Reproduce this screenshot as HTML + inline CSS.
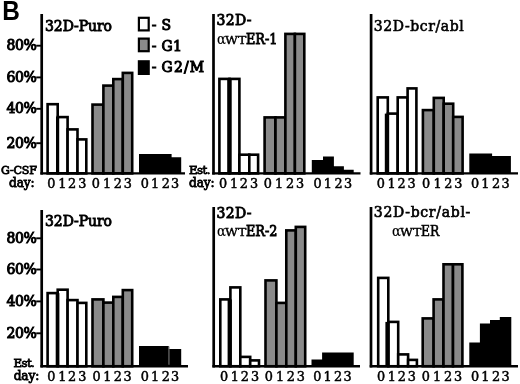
<!DOCTYPE html>
<html><head><meta charset="utf-8"><title>Figure B</title>
<style>
html,body{margin:0;padding:0;background:#fff;}
svg{display:block;}
.t{font-family:"DejaVu Serif", "Liberation Serif", serif;font-weight:normal;fill:#000;stroke:#000;stroke-width:0.8px;}
.b{font-family:"Liberation Sans",sans-serif;font-weight:bold;fill:#000;}
</style></head><body>
<svg width="520" height="384" viewBox="0 0 520 384">
<defs><filter id="soft" x="0" y="0" width="520" height="384" filterUnits="userSpaceOnUse"><feGaussianBlur stdDeviation="0.45"/></filter></defs>
<rect width="520" height="384" fill="#fff"/>
<g filter="url(#soft)">
<rect x="47.60" y="104.20" width="10.10" height="69.20" fill="#fff" stroke="#000" stroke-width="2.6"/>
<rect x="57.70" y="117.10" width="9.90" height="56.30" fill="#fff" stroke="#000" stroke-width="2.6"/>
<rect x="67.60" y="129.40" width="9.90" height="44.00" fill="#fff" stroke="#000" stroke-width="2.6"/>
<rect x="77.50" y="139.40" width="8.80" height="34.00" fill="#fff" stroke="#000" stroke-width="2.6"/>
<rect x="92.50" y="104.60" width="10.90" height="68.80" fill="#8a8a8a" stroke="#000" stroke-width="2.6"/>
<rect x="103.40" y="85.60" width="9.90" height="87.80" fill="#8a8a8a" stroke="#000" stroke-width="2.6"/>
<rect x="113.30" y="79.10" width="9.50" height="94.30" fill="#8a8a8a" stroke="#000" stroke-width="2.6"/>
<rect x="122.80" y="72.90" width="9.40" height="100.50" fill="#8a8a8a" stroke="#000" stroke-width="2.6"/>
<rect x="56.00" y="117.10" width="3.20" height="56.30" fill="#000"/>
<polygon points="139.00,173.40 139.00,154.00 149.60,154.00 149.60,154.00 160.30,154.00 160.30,154.00 171.60,154.00 171.60,157.20 181.20,157.20 181.20,173.40" fill="#000"/>
<line x1="41.7" y1="14" x2="41.7" y2="174.6" stroke="#000" stroke-width="2.7"/>
<line x1="40.400000000000006" y1="173.4" x2="185" y2="173.4" stroke="#000" stroke-width="2.4"/>
<rect x="219.40" y="78.90" width="10.10" height="94.50" fill="#fff" stroke="#000" stroke-width="2.6"/>
<rect x="229.50" y="78.90" width="9.90" height="94.50" fill="#fff" stroke="#000" stroke-width="2.6"/>
<rect x="239.40" y="154.70" width="9.90" height="18.70" fill="#fff" stroke="#000" stroke-width="2.6"/>
<rect x="249.30" y="154.70" width="8.80" height="18.70" fill="#fff" stroke="#000" stroke-width="2.6"/>
<rect x="264.60" y="117.40" width="10.90" height="56.00" fill="#8a8a8a" stroke="#000" stroke-width="2.6"/>
<rect x="275.50" y="117.40" width="9.90" height="56.00" fill="#8a8a8a" stroke="#000" stroke-width="2.6"/>
<rect x="285.40" y="33.90" width="9.50" height="139.50" fill="#8a8a8a" stroke="#000" stroke-width="2.6"/>
<rect x="294.90" y="33.90" width="9.40" height="139.50" fill="#8a8a8a" stroke="#000" stroke-width="2.6"/>
<rect x="227.20" y="78.90" width="4.50" height="94.50" fill="#000"/>
<polygon points="311.80,173.40 311.80,160.00 323.00,160.00 323.00,156.40 333.90,156.40 333.90,166.20 343.90,166.20 343.90,169.70 353.70,169.70 353.70,173.40" fill="#000"/>
<line x1="213.5" y1="14" x2="213.5" y2="174.6" stroke="#000" stroke-width="2.7"/>
<line x1="212.2" y1="173.4" x2="360.5" y2="173.4" stroke="#000" stroke-width="2.4"/>
<rect x="377.70" y="97.40" width="10.10" height="76.00" fill="#fff" stroke="#000" stroke-width="2.6"/>
<rect x="387.80" y="113.60" width="9.90" height="59.80" fill="#fff" stroke="#000" stroke-width="2.6"/>
<rect x="397.70" y="97.40" width="9.90" height="76.00" fill="#fff" stroke="#000" stroke-width="2.6"/>
<rect x="407.60" y="88.40" width="8.80" height="85.00" fill="#fff" stroke="#000" stroke-width="2.6"/>
<rect x="422.90" y="110.10" width="10.90" height="63.30" fill="#8a8a8a" stroke="#000" stroke-width="2.6"/>
<rect x="433.80" y="97.90" width="9.90" height="75.50" fill="#8a8a8a" stroke="#000" stroke-width="2.6"/>
<rect x="443.70" y="103.70" width="9.50" height="69.70" fill="#8a8a8a" stroke="#000" stroke-width="2.6"/>
<rect x="453.20" y="116.90" width="9.40" height="56.50" fill="#8a8a8a" stroke="#000" stroke-width="2.6"/>
<rect x="384.80" y="113.60" width="4.30" height="59.80" fill="#000"/>
<polygon points="469.30,173.40 469.30,153.50 479.90,153.50 479.90,153.50 492.10,153.50 492.10,156.00 501.30,156.00 501.30,156.00 510.90,156.00 510.90,173.40" fill="#000"/>
<line x1="371.1" y1="14" x2="371.1" y2="174.6" stroke="#000" stroke-width="2.7"/>
<line x1="369.8" y1="173.4" x2="518" y2="173.4" stroke="#000" stroke-width="2.4"/>
<rect x="47.60" y="293.10" width="10.10" height="73.15" fill="#fff" stroke="#000" stroke-width="2.6"/>
<rect x="57.70" y="289.70" width="9.90" height="76.55" fill="#fff" stroke="#000" stroke-width="2.6"/>
<rect x="67.60" y="300.10" width="9.90" height="66.15" fill="#fff" stroke="#000" stroke-width="2.6"/>
<rect x="77.50" y="302.90" width="8.80" height="63.35" fill="#fff" stroke="#000" stroke-width="2.6"/>
<rect x="92.50" y="299.40" width="10.90" height="66.85" fill="#8a8a8a" stroke="#000" stroke-width="2.6"/>
<rect x="103.40" y="302.60" width="9.90" height="63.65" fill="#8a8a8a" stroke="#000" stroke-width="2.6"/>
<rect x="113.30" y="296.90" width="9.50" height="69.35" fill="#8a8a8a" stroke="#000" stroke-width="2.6"/>
<rect x="122.80" y="290.10" width="9.40" height="76.15" fill="#8a8a8a" stroke="#000" stroke-width="2.6"/>
<rect x="55.70" y="293.10" width="3.70" height="73.15" fill="#000"/>
<polygon points="139.00,366.25 139.00,346.00 149.60,346.00 149.60,346.00 160.30,346.00 160.30,346.00 168.80,346.00 168.80,349.00 181.20,349.00 181.20,366.25" fill="#000"/>
<rect x="168.4" y="346.5" width="1.1" height="18.25" fill="#777"/>
<line x1="41.7" y1="210" x2="41.7" y2="367.45" stroke="#000" stroke-width="2.7"/>
<line x1="40.400000000000006" y1="366.25" x2="188" y2="366.25" stroke="#000" stroke-width="2.4"/>
<rect x="220.30" y="299.40" width="10.10" height="66.85" fill="#fff" stroke="#000" stroke-width="2.6"/>
<rect x="230.40" y="287.40" width="9.90" height="78.85" fill="#fff" stroke="#000" stroke-width="2.6"/>
<rect x="240.30" y="356.90" width="9.90" height="9.35" fill="#fff" stroke="#000" stroke-width="2.6"/>
<rect x="250.20" y="360.40" width="8.80" height="5.85" fill="#fff" stroke="#000" stroke-width="2.6"/>
<rect x="265.50" y="280.40" width="10.90" height="85.85" fill="#8a8a8a" stroke="#000" stroke-width="2.6"/>
<rect x="276.40" y="302.90" width="9.90" height="63.35" fill="#8a8a8a" stroke="#000" stroke-width="2.6"/>
<rect x="286.30" y="230.40" width="9.50" height="135.85" fill="#8a8a8a" stroke="#000" stroke-width="2.6"/>
<rect x="295.80" y="226.90" width="9.40" height="139.35" fill="#8a8a8a" stroke="#000" stroke-width="2.6"/>
<rect x="227.60" y="299.40" width="4.20" height="66.85" fill="#000"/>
<polygon points="311.50,366.25 311.50,359.50 322.10,359.50 322.10,352.50 332.80,352.50 332.80,352.50 343.50,352.50 343.50,352.50 353.70,352.50 353.70,366.25" fill="#000"/>
<line x1="213.7" y1="207" x2="213.7" y2="367.45" stroke="#000" stroke-width="2.7"/>
<line x1="212.39999999999998" y1="366.25" x2="360" y2="366.25" stroke="#000" stroke-width="2.4"/>
<rect x="378.20" y="277.90" width="10.10" height="88.35" fill="#fff" stroke="#000" stroke-width="2.6"/>
<rect x="388.30" y="321.90" width="9.90" height="44.35" fill="#fff" stroke="#000" stroke-width="2.6"/>
<rect x="398.20" y="354.40" width="9.90" height="11.85" fill="#fff" stroke="#000" stroke-width="2.6"/>
<rect x="408.10" y="359.90" width="8.80" height="6.35" fill="#fff" stroke="#000" stroke-width="2.6"/>
<rect x="422.70" y="318.40" width="10.90" height="47.85" fill="#8a8a8a" stroke="#000" stroke-width="2.6"/>
<rect x="433.60" y="299.40" width="9.90" height="66.85" fill="#8a8a8a" stroke="#000" stroke-width="2.6"/>
<rect x="443.50" y="264.30" width="9.50" height="101.95" fill="#8a8a8a" stroke="#000" stroke-width="2.6"/>
<rect x="453.00" y="264.30" width="9.40" height="101.95" fill="#8a8a8a" stroke="#000" stroke-width="2.6"/>
<rect x="385.40" y="321.90" width="4.30" height="44.35" fill="#000"/>
<polygon points="469.30,366.25 469.30,342.50 479.90,342.50 479.90,323.50 490.00,323.50 490.00,320.00 499.80,320.00 499.80,317.10 511.30,317.10 511.30,366.25" fill="#000"/>
<line x1="371.0" y1="207" x2="371.0" y2="367.45" stroke="#000" stroke-width="2.7"/>
<line x1="369.7" y1="366.25" x2="518" y2="366.25" stroke="#000" stroke-width="2.4"/>
<line x1="36.2" y1="45.70" x2="41" y2="45.70" stroke="#000" stroke-width="1.9"/>
<text x="6.5" y="50.20" class="t" font-size="14.0" text-anchor="start" textLength="30.4" lengthAdjust="spacing" style="stroke-width:1.0px">80%</text>
<line x1="36.2" y1="77.40" x2="41" y2="77.40" stroke="#000" stroke-width="1.9"/>
<text x="6.5" y="81.90" class="t" font-size="14.0" text-anchor="start" textLength="30.4" lengthAdjust="spacing" style="stroke-width:1.0px">60%</text>
<line x1="36.2" y1="108.80" x2="41" y2="108.80" stroke="#000" stroke-width="1.9"/>
<text x="6.5" y="113.30" class="t" font-size="14.0" text-anchor="start" textLength="30.4" lengthAdjust="spacing" style="stroke-width:1.0px">40%</text>
<line x1="36.2" y1="143.20" x2="41" y2="143.20" stroke="#000" stroke-width="1.9"/>
<text x="6.5" y="147.70" class="t" font-size="14.0" text-anchor="start" textLength="30.4" lengthAdjust="spacing" style="stroke-width:1.0px">20%</text>
<line x1="36.2" y1="238.30" x2="41" y2="238.30" stroke="#000" stroke-width="1.9"/>
<text x="6.5" y="242.80" class="t" font-size="14.0" text-anchor="start" textLength="30.4" lengthAdjust="spacing" style="stroke-width:1.0px">80%</text>
<line x1="36.2" y1="269.50" x2="41" y2="269.50" stroke="#000" stroke-width="1.9"/>
<text x="6.5" y="274.00" class="t" font-size="14.0" text-anchor="start" textLength="30.4" lengthAdjust="spacing" style="stroke-width:1.0px">60%</text>
<line x1="36.2" y1="301.40" x2="41" y2="301.40" stroke="#000" stroke-width="1.9"/>
<text x="6.5" y="305.90" class="t" font-size="14.0" text-anchor="start" textLength="30.4" lengthAdjust="spacing" style="stroke-width:1.0px">40%</text>
<line x1="36.2" y1="333.30" x2="41" y2="333.30" stroke="#000" stroke-width="1.9"/>
<text x="6.5" y="337.80" class="t" font-size="14.0" text-anchor="start" textLength="30.4" lengthAdjust="spacing" style="stroke-width:1.0px">20%</text>
<text x="2.3" y="19.6" class="b" font-size="27.2" text-anchor="start" textLength="17.6" lengthAdjust="spacingAndGlyphs">B</text>
<text x="45" y="30.8" class="t" font-size="14.0" text-anchor="start" textLength="67" lengthAdjust="spacing" style="stroke-width:0.85px">32D-Puro</text>
<text x="45" y="226" class="t" font-size="14.0" text-anchor="start" textLength="67" lengthAdjust="spacing" style="stroke-width:0.85px">32D-Puro</text>
<text x="216.6" y="24.9" class="t" font-size="14.0" text-anchor="start" textLength="34.8" lengthAdjust="spacing" style="stroke-width:0.85px">32D-</text>
<text x="217.0" y="44.1" class="t" font-size="14" text-anchor="start" textLength="8.9" lengthAdjust="spacingAndGlyphs" style="stroke-width:0.15px">α</text>
<text x="225.1" y="44.1" class="t" font-size="11.3" text-anchor="start" textLength="21.2" lengthAdjust="spacingAndGlyphs" style="stroke-width:0.4px">WT</text>
<text x="246.0" y="44.1" class="t" font-size="14.0" text-anchor="start" textLength="31.5" lengthAdjust="spacingAndGlyphs" style="stroke-width:0.85px">ER-1</text>
<text x="216.6" y="218" class="t" font-size="14.0" text-anchor="start" textLength="34.8" lengthAdjust="spacing" style="stroke-width:0.85px">32D-</text>
<text x="217.0" y="236.2" class="t" font-size="14" text-anchor="start" textLength="8.9" lengthAdjust="spacingAndGlyphs" style="stroke-width:0.15px">α</text>
<text x="225.1" y="236.2" class="t" font-size="11.3" text-anchor="start" textLength="21.2" lengthAdjust="spacingAndGlyphs" style="stroke-width:0.4px">WT</text>
<text x="246.0" y="236.2" class="t" font-size="14.0" text-anchor="start" textLength="31.5" lengthAdjust="spacingAndGlyphs" style="stroke-width:0.85px">ER-2</text>
<text x="373.8" y="30.5" class="t" font-size="14.0" text-anchor="start" textLength="90" lengthAdjust="spacing" style="stroke-width:0.6px">32D-bcr/abl</text>
<text x="373.8" y="217" class="t" font-size="14.0" text-anchor="start" textLength="96.5" lengthAdjust="spacing" style="stroke-width:0.65px">32D-bcr/abl-</text>
<text x="392.0" y="235.8" class="t" font-size="14" text-anchor="start" textLength="8.9" lengthAdjust="spacingAndGlyphs" style="stroke-width:0.15px">α</text>
<text x="400.1" y="235.8" class="t" font-size="11.3" text-anchor="start" textLength="21.2" lengthAdjust="spacingAndGlyphs" style="stroke-width:0.4px">WT</text>
<text x="421.0" y="235.8" class="t" font-size="14.0" text-anchor="start" textLength="18.3" lengthAdjust="spacingAndGlyphs" style="stroke-width:0.6px">ER</text>
<rect x="138.9" y="17.8" width="9.8" height="12.6" fill="#fff" stroke="#000" stroke-width="2.2"/>
<text x="151.7" y="29.8" class="t" font-size="14.0" text-anchor="start" textLength="4.2" lengthAdjust="spacing" style="stroke-width:0.9px">-</text>
<text x="161.6" y="29.8" class="t" font-size="14.0" text-anchor="start" style="stroke-width:1.0px">S</text>
<rect x="138.9" y="38.6" width="9.8" height="12.6" fill="#8a8a8a" stroke="#000" stroke-width="2.2"/>
<text x="151.7" y="50.5" class="t" font-size="14.0" text-anchor="start" textLength="4.2" lengthAdjust="spacing" style="stroke-width:0.9px">-</text>
<text x="161.6" y="50.5" class="t" font-size="14.0" text-anchor="start" textLength="20.2" lengthAdjust="spacing" style="stroke-width:1.0px">G1</text>
<rect x="138.9" y="61.300000000000004" width="9.8" height="12.6" fill="#000" stroke="#000" stroke-width="2.2"/>
<text x="151.7" y="72.2" class="t" font-size="14.0" text-anchor="start" textLength="4.2" lengthAdjust="spacing" style="stroke-width:0.9px">-</text>
<text x="161.6" y="72.2" class="t" font-size="14.0" text-anchor="start" textLength="42.6" lengthAdjust="spacing" style="stroke-width:1.0px">G2/M</text>
<text x="1.0" y="174.2" class="t" font-size="11.1" text-anchor="start" textLength="36" lengthAdjust="spacing">G-CSF</text>
<text x="9.1" y="186.7" class="t" font-size="12.2" text-anchor="start" textLength="25.6" lengthAdjust="spacing">day:</text>
<text x="189.1" y="173.7" class="t" font-size="11.8" text-anchor="start" textLength="21.3" lengthAdjust="spacing">Est.</text>
<text x="189.1" y="186.6" class="t" font-size="12.2" text-anchor="start" textLength="25.6" lengthAdjust="spacing">day:</text>
<text x="13.5" y="367.2" class="t" font-size="11.8" text-anchor="start" textLength="21.3" lengthAdjust="spacing">Est.</text>
<text x="13.7" y="380.0" class="t" font-size="12.2" text-anchor="start" textLength="25.6" lengthAdjust="spacing">day:</text>
<text x="51.4 62.3 72.1 82.3" y="187.9" class="t" font-size="12.8" text-anchor="middle" style="stroke-width:0.5px">0123</text>
<text x="95.8 107.0 117.9 127.9" y="187.9" class="t" font-size="12.8" text-anchor="middle" style="stroke-width:0.5px">0123</text>
<text x="144.9 155.0 165.8 175.2" y="187.9" class="t" font-size="12.8" text-anchor="middle" style="stroke-width:0.5px">0123</text>
<text x="223.1 234.0 243.9 254.1" y="187.9" class="t" font-size="12.8" text-anchor="middle" style="stroke-width:0.5px">0123</text>
<text x="267.9 279.2 290.0 300.0" y="187.9" class="t" font-size="12.8" text-anchor="middle" style="stroke-width:0.5px">0123</text>
<text x="317.7 327.9 338.6 348.0" y="187.9" class="t" font-size="12.8" text-anchor="middle" style="stroke-width:0.5px">0123</text>
<text x="380.8 391.7 401.6 411.7" y="187.9" class="t" font-size="12.8" text-anchor="middle" style="stroke-width:0.5px">0123</text>
<text x="426.2 437.5 448.3 458.3" y="187.9" class="t" font-size="12.8" text-anchor="middle" style="stroke-width:0.5px">0123</text>
<text x="475.2 485.4 496.1 505.5" y="187.9" class="t" font-size="12.8" text-anchor="middle" style="stroke-width:0.5px">0123</text>
<text x="51.4 62.3 72.1 82.3" y="381.4" class="t" font-size="12.8" text-anchor="middle" style="stroke-width:0.5px">0123</text>
<text x="96.6 107.4 117.9 127.7" y="381.4" class="t" font-size="12.8" text-anchor="middle" style="stroke-width:0.5px">0123</text>
<text x="144.9 155.0 165.8 175.2" y="381.4" class="t" font-size="12.8" text-anchor="middle" style="stroke-width:0.5px">0123</text>
<text x="224.0 234.9 244.8 255.0" y="381.4" class="t" font-size="12.8" text-anchor="middle" style="stroke-width:0.5px">0123</text>
<text x="268.8 280.1 290.9 300.9" y="381.4" class="t" font-size="12.8" text-anchor="middle" style="stroke-width:0.5px">0123</text>
<text x="317.4 327.6 338.2 347.7" y="381.4" class="t" font-size="12.8" text-anchor="middle" style="stroke-width:0.5px">0123</text>
<text x="381.0 391.9 401.8 411.9" y="381.4" class="t" font-size="12.8" text-anchor="middle" style="stroke-width:0.5px">0123</text>
<text x="425.9 437.2 448.1 458.1" y="381.4" class="t" font-size="12.8" text-anchor="middle" style="stroke-width:0.5px">0123</text>
<text x="475.2 485.4 496.1 505.5" y="381.4" class="t" font-size="12.8" text-anchor="middle" style="stroke-width:0.5px">0123</text>
</g>
</svg>
</body></html>
